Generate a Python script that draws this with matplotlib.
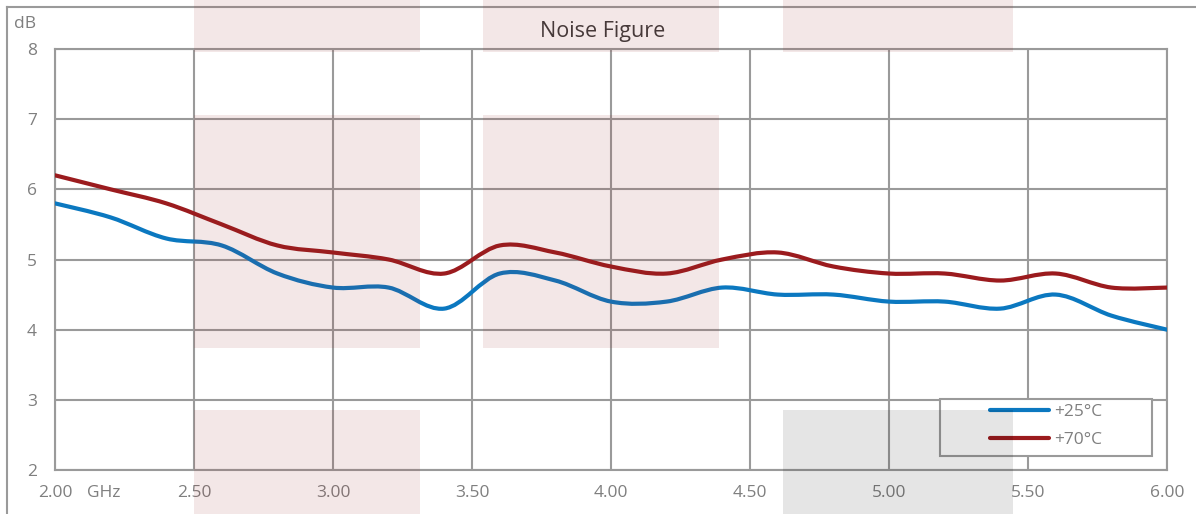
import numpy as np
import matplotlib.pyplot as plt
from matplotlib.path import Path
from matplotlib.patches import PathPatch, Rectangle
from matplotlib.lines import Line2D
from matplotlib.transforms import blended_transform_factory

plt.rcParams['font.family'] = ['Open Sans', 'DejaVu Sans']

# data (GHz / dB)
freq = [2.0, 2.2, 2.4, 2.6, 2.8, 3.0, 3.2, 3.4, 3.6, 3.8, 4.0,
        4.2, 4.4, 4.6, 4.8, 5.0, 5.2, 5.4, 5.6, 5.8, 6.0]
nf_25c = [5.8, 5.6, 5.3, 5.2, 4.8, 4.6, 4.6, 4.3, 4.8, 4.7, 4.4,
          4.4, 4.6, 4.5, 4.5, 4.4, 4.4, 4.3, 4.5, 4.2, 4.0]
nf_70c = [6.2, 6.0, 5.8, 5.5, 5.2, 5.1, 5.0, 4.8, 5.2, 5.1, 4.9,
          4.8, 5.0, 5.1, 4.9, 4.8, 4.8, 4.7, 4.8, 4.6, 4.6]
series_labels = ['+25°C', '+70°C']
x_ticks = [2.0, 2.5, 3.0, 3.5, 4.0, 4.5, 5.0, 5.5, 6.0]
y_ticks = [2, 3, 4, 5, 6, 7, 8]

BLUE = '#0b78c0'
RED = '#9b1b1e'
GRID = '#9a9a9a'
TXT = '#7f7f7f'
W, H = 1196, 514


def smooth_path(xs, ys, k=1 / 6):
    # Excel-like smoothed line as cubic bezier segments
    pts = np.column_stack([xs, ys])
    n = len(pts)
    verts = [pts[0]]
    codes = [Path.MOVETO]
    for i in range(n - 1):
        p0 = pts[max(i - 1, 0)]
        p1 = pts[i]
        p2 = pts[i + 1]
        p3 = pts[min(i + 2, n - 1)]
        verts += [p1 + (p2 - p0) * k, p2 - (p3 - p1) * k, p2]
        codes += [Path.CURVE4] * 3
    return Path(verts, codes)


fig = plt.figure(figsize=(W / 100, H / 100), dpi=100)
ax = fig.add_axes([55 / W, 1 - 470 / H, (1167 - 55) / W, (470 - 49) / H])

for ys, col in [(nf_25c, BLUE), (nf_70c, RED)]:
    ax.add_patch(PathPatch(smooth_path(freq, ys), fill=False, edgecolor=col,
                           lw=3, capstyle='round', joinstyle='round', zorder=3))

ax.set_xlim(2, 6)
ax.set_ylim(2, 8)
ax.set_xticks(x_ticks)
ax.set_xticklabels([f'{v:.2f}' for v in x_ticks])
ax.set_yticks(y_ticks)
ax.grid(True, color=GRID, lw=1.5)
ax.set_axisbelow(True)
for s in ax.spines.values():
    s.set_color(GRID)
    s.set_linewidth(1.5)
ax.tick_params(length=0, labelcolor=TXT, labelsize=12.5)
ax.tick_params(axis='y', pad=13)
ax.tick_params(axis='x', pad=11)

# legend box + entries
fig.add_artist(Rectangle((940 / W, 1 - 456 / H), (1152 - 940) / W, (456 - 399) / H,
                         transform=fig.transFigure, facecolor='white',
                         edgecolor=GRID, lw=1.5, zorder=4))
handles = [Line2D([], [], color=BLUE, lw=3, solid_capstyle='round'),
           Line2D([], [], color=RED, lw=3, solid_capstyle='round')]
leg = fig.legend(handles, series_labels, loc='upper left',
                 bbox_to_anchor=(990 / W, 1 - 404 / H), bbox_transform=fig.transFigure,
                 frameon=False, borderpad=0, borderaxespad=0, handlelength=3.4,
                 handletextpad=0.3, labelspacing=0.68, fontsize=12.5, labelcolor=TXT)
leg.set_zorder(5)

# translucent background blocks
bt = blended_transform_factory(ax.transData, fig.transFigure)
cols = [(2.5, 3.313), (3.54, 4.39), (4.62, 5.446)]
bands = [(0, 52), (115, 348), (410, 514)]
blocks = [(0, 0, 'p'), (0, 1, 'p'), (0, 2, 'p'),
          (1, 0, 'p'), (1, 1, 'p'),
          (2, 0, 'p'), (2, 2, 'g')]
for b, c, kind in blocks:
    x0, x1 = cols[c]
    top, bot = bands[b]
    fc = (0.6, 0.15, 0.15, 0.11) if kind == 'p' else (0, 0, 0, 0.10)
    r = Rectangle((x0, 1 - bot / H), x1 - x0, (bot - top) / H, transform=bt,
                  facecolor=fc, edgecolor='none', clip_on=False, zorder=10)
    fig.add_artist(r)

# outer chart frame (top and left edges visible)
fig.add_artist(Line2D([6.5 / W, 6.5 / W], [0, 1 - 6.5 / H], color=GRID, lw=1.5,
                      transform=fig.transFigure))
fig.add_artist(Line2D([6.5 / W, 1], [1 - 6.5 / H, 1 - 6.5 / H], color=GRID, lw=1.5,
                      transform=fig.transFigure))

fig.text(603 / W, 1 - 31 / H, 'Noise Figure', ha='center', va='center',
         fontsize=15.5, color='#3c3c3c')
fig.text(25 / W, 1 - 24 / H, 'dB', ha='center', va='center', fontsize=12.5, color=TXT)
fig.text(104 / W, 1 - 493 / H, 'GHz', ha='center', va='center', fontsize=12.5, color=TXT)

fig.savefig('out.png', dpi=100)
plt.close(fig)
